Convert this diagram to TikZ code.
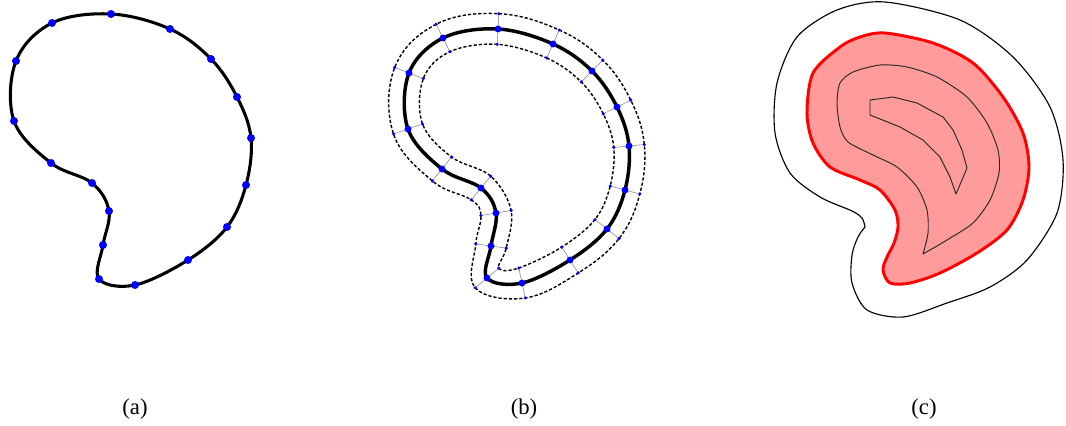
\documentclass[tikz,border=0pt]{standalone}
\usepackage{fontspec}
\setmainfont{Liberation Serif}
\usetikzlibrary{calc}
\definecolor{pinkfill}{RGB}{255,155,155}
\tikzset{
  curveA/.style={line width=2.3pt, black},
  curveB/.style={line width=2.6pt, black},
  offsetline/.style={line width=1.05pt, black, dash pattern=on 2.4pt off 1.5pt},
  normalline/.style={line width=0.4pt, gray},
  outline/.style={line width=0.85pt, black, line join=round},
  redshape/.style={line width=2.2pt, red, fill=pinkfill, line join=round},
  innerline/.style={line width=0.7pt, black!85, line join=round},
  lbl/.style={font=\fontsize{17}{20}\selectfont, inner sep=0pt}
}
\begin{document}
\begin{tikzpicture}[x=0.75pt, y=-0.75pt]
\useasboundingbox (0,0) rectangle (1066,425);

% ---------------- (a) ----------------
\coordinate (a1) at (111,14);
\coordinate (a2) at (170,29);
\coordinate (a3) at (211,59);
\coordinate (a4) at (237,97);
\coordinate (a5) at (251,138);
\coordinate (a6) at (246,185);
\coordinate (a7) at (227,227);
\coordinate (a8) at (188,260);
\coordinate (a9) at (135,285);
\coordinate (a10) at (99,279);
\coordinate (a11) at (103,245);
\coordinate (a12) at (109,211);
\coordinate (a13) at (92,183);
\coordinate (a14) at (51,163);
\coordinate (a15) at (14,121);
\coordinate (a16) at (16,61);
\coordinate (a17) at (52,23);
\draw[curveA] plot[smooth cycle, tension=0.6] coordinates {(a1) (a2) (a3) (a4) (a5) (a6) (a7) (a8) (a9) (a10) (a11) (a12) (a13) (a14) (a15) (a16) (a17)};
\foreach \i in {1,...,17} \fill[blue] (a\i) circle (3pt);

% ---------------- (b) ----------------
\coordinate (b1) at (498,29);
\coordinate (b2) at (553,44);
\coordinate (b3) at (592,71);
\coordinate (b4) at (617,107);
\coordinate (b5) at (629,146);
\coordinate (b6) at (625,190);
\coordinate (b7) at (607,229);
\coordinate (b8) at (570,260);
\coordinate (b9) at (522,283);
\coordinate (b10) at (487,278);
\coordinate (b11) at (491,246);
\coordinate (b12) at (496,213);
\coordinate (b13) at (481,188);
\coordinate (b14) at (442,169);
\coordinate (b15) at (408,129);
\coordinate (b16) at (409,73);
\coordinate (b17) at (443,38);
\foreach \i in {1,...,17}{
  \pgfmathtruncatemacro\prv{mod(\i+15,17)+1}
  \pgfmathtruncatemacro\nxt{mod(\i,17)+1}
  \coordinate (tmpo) at ($(b\prv)!11.5pt!90:(b\nxt)$);
  \coordinate (tmpi) at ($(b\prv)!11.5pt!-90:(b\nxt)$);
  \coordinate (bo\i) at ($(b\i)+(tmpo)-(b\prv)$);
  \coordinate (bi\i) at ($(b\i)+(tmpi)-(b\prv)$);
}
\foreach \i in {1,...,17} \draw[normalline] (bo\i) -- (bi\i);
\draw[curveB] plot[smooth cycle, tension=0.6] coordinates {(b1) (b2) (b3) (b4) (b5) (b6) (b7) (b8) (b9) (b10) (b11) (b12) (b13) (b14) (b15) (b16) (b17)};
\draw[offsetline] plot[smooth cycle, tension=0.65] coordinates {(bo1) (bo2) (bo3) (bo4) (bo5) (bo6) (bo7) (bo8) (bo9) (bo10) (bo11) (bo12) (bo13) (bo14) (bo15) (bo16) (bo17)};
\draw[offsetline] plot[smooth cycle, tension=0.6] coordinates {(bi1) (bi2) (bi3) (bi4) (bi5) (bi6) (bi7) (bi8) (bi9) (bi10) (bi11) (bi12) (bi13) (bi14) (bi15) (bi16) (bi17)};
\foreach \i in {1,...,17}{
  \fill[blue] (b\i) circle (2.6pt);
  \fill[blue] (bo\i) circle (1.3pt);
  \fill[blue] (bi\i) circle (1.3pt);
}

% ---------------- (c) ----------------
\draw[outline] plot[smooth] coordinates {(865,227) (862,218) (852,211) (820,197) (790,173) (775,133) (777,83) (797,37) (837,10) (885,2) (960,20) (1013,57) (1050,107) (1063,160) (1057,213) (1027,260) (990,287) (947,303) (903,317) (867,310) (852,283) (852,255) (858,237) (865,227)};
\draw[redshape] plot[smooth cycle] coordinates {(885,33) (933,43) (973,63) (1003,97) (1023,133) (1029,167) (1023,200) (1007,230) (977,253) (940,273) (910,283) (890,283) (883,270) (887,257) (894,243) (898,227) (895,210) (880,190) (860,180) (830,167) (813,143) (807,113) (813,73) (840,47) (860,37)};
\draw[innerline] plot[smooth, tension=0.45] coordinates {(923,254) (928,233) (927,210) (917,187) (897,167) (873,155) (848,142) (840,127) (837,103) (840,83) (853,72) (880,65) (907,67) (937,77) (967,97) (987,123) (998,150) (999,173) (990,200) (973,223) (947,240) (923,254)};
\draw[innerline] (870,100) -- (893,97) -- (917,103) -- (943,117) -- (953,130) -- (962,150) -- (967,168) -- (956,194) -- (950,177) -- (940,157) -- (923,140) -- (900,127) -- (870,115) -- cycle;

% ---------------- labels ----------------
\node[lbl] (la) at (135,409) {(a)};
\node[lbl] (lb) at (524,409) {(b)};
\node[lbl] (lc) at (924,409) {(c)};
\end{tikzpicture}
\end{document}
